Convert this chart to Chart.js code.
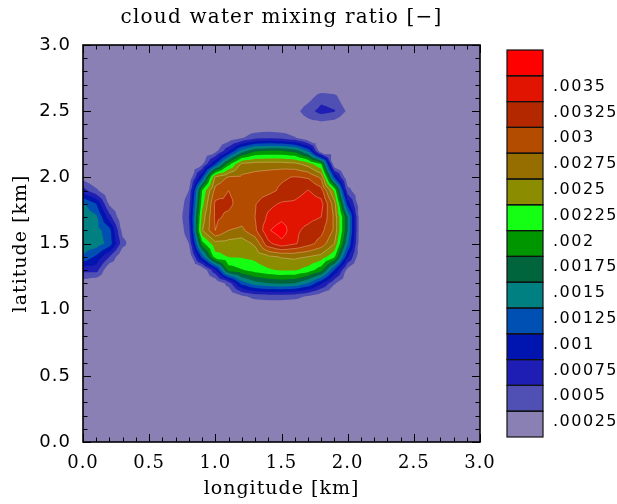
<!DOCTYPE html>
<html>
<head>
<meta charset="utf-8">
<script src="https://cdn.jsdelivr.net/npm/chart.js@4.4.1/dist/chart.umd.min.js"></script>
<style>
  html, body { margin: 0; padding: 0; background: #fff; }
  canvas { display: block; }
</style>
</head>
<body>
<canvas id="qcChart" width="617" height="504"></canvas>
<script>
// grid coordinates (km)
const lon = [0.0, 0.1, 0.2, 0.3, 0.4, 0.5, 0.6, 0.7, 0.8, 0.9, 1.0, 1.1, 1.2, 1.3, 1.4, 1.5,
             1.6, 1.7, 1.8, 1.9, 2.0, 2.1, 2.2, 2.3, 2.4, 2.5, 2.6, 2.7, 2.8, 2.9, 3.0];
const lat = [0.0, 0.1, 0.2, 0.3, 0.4, 0.5, 0.6, 0.7, 0.8, 0.9, 1.0, 1.1, 1.2, 1.3, 1.4, 1.5,
             1.6, 1.7, 1.8, 1.9, 2.0, 2.1, 2.2, 2.3, 2.4, 2.5, 2.6, 2.7, 2.8, 2.9, 3.0];

// cloud water mixing ratio in units of 1e-5, one row per latitude (0.0 km first)
const QC_UNIT = 1e-5;
const qc = [
  [0,0,0,0,0,0,0,0,0,0,0,0,0,0,0,0,0,0,0,0,0,0,0,0,0,0,0,0,0,0,0], // 0.0
  [0,0,0,0,0,0,0,0,0,0,0,0,0,0,0,0,0,0,0,0,0,0,0,0,0,0,0,0,0,0,0],
  [0,0,0,0,0,0,0,0,0,0,0,0,0,0,0,0,0,0,0,0,0,0,0,0,0,0,0,0,0,0,0],
  [0,0,0,0,0,0,0,0,0,0,0,0,0,0,0,0,0,0,0,0,0,0,0,0,0,0,0,0,0,0,0],
  [0,0,0,0,0,0,0,0,0,0,0,0,0,0,0,0,0,0,0,0,0,0,0,0,0,0,0,0,0,0,0],
  [0,0,0,0,0,0,0,0,0,0,0,0,0,0,0,0,0,0,0,0,0,0,0,0,0,0,0,0,0,0,0], // 0.5
  [0,0,0,0,0,0,0,0,0,0,0,0,0,0,0,0,0,0,0,0,0,0,0,0,0,0,0,0,0,0,0],
  [0,0,0,0,0,0,0,0,0,0,0,0,0,0,0,0,0,0,0,0,0,0,0,0,0,0,0,0,0,0,0],
  [0,0,0,0,0,0,0,0,0,0,0,0,0,0,0,0,0,0,0,0,0,0,0,0,0,0,0,0,0,0,0],
  [0,0,0,0,0,0,0,0,0,0,0,0,0,0,0,0,0,0,0,0,0,0,0,0,0,0,0,0,0,0,0],
  [0,0,0,0,0,0,0,0,0,0,0,0,0,0,0,0,0,0,0,0,0,0,0,0,0,0,0,0,0,0,0], // 1.0
  [0,0,0,0,0,0,0,0,0,0,0,0,20,32,35,35,32,22,5,0,0,0,0,0,0,0,0,0,0,0,0],
  [10,0,0,0,0,0,0,0,0,0,0,35,110,140,150,155,150,125,80,28,0,0,0,0,0,0,0,0,0,0,0],
  [60,60,0,0,0,0,0,0,0,0,70,185,198,212,222,228,228,215,185,100,15,0,0,0,0,0,0,0,0,0,0],
  [122,95,50,0,0,0,0,0,0,110,215,226,228,232,245,252,255,250,240,205,80,0,0,0,0,0,0,0,0,0,0],
  [140,140,115,35,0,0,0,0,25,190,242,240,235,255,318,342,328,310,290,250,130,0,0,0,0,0,0,0,0,0,0], // 1.5
  [145,135,110,15,0,0,0,0,40,248,300,275,270,295,347,365,330,319,308,270,150,0,0,0,0,0,0,0,0,0,0],
  [140,130,60,0,0,0,0,0,50,235,305,295,285,300,330,342,336,332,325,270,150,0,0,0,0,0,0,0,0,0,0],
  [130,100,20,0,0,0,0,0,40,215,305,305,290,298,318,328,330,340,334,260,90,0,0,0,0,0,0,0,0,0,0],
  [60,30,0,0,0,0,0,0,25,200,285,300,292,288,292,305,312,326,310,220,35,0,0,0,0,0,0,0,0,0,0],
  [15,0,0,0,0,0,0,0,0,100,255,278,280,285,290,296,302,298,270,100,0,0,0,0,0,0,0,0,0,0,0], // 2.0
  [0,0,0,0,0,0,0,0,0,20,100,190,256,262,262,262,258,240,200,0,0,0,0,0,0,0,0,0,0,0,0],
  [0,0,0,0,0,0,0,0,0,0,15,70,135,170,175,175,165,120,0,0,0,0,0,0,0,0,0,0,0,0,0],
  [0,0,0,0,0,0,0,0,0,0,0,5,22,40,45,40,27,0,0,0,0,0,0,0,0,0,0,0,0,0,0],
  [0,0,0,0,0,0,0,0,0,0,0,0,0,0,0,0,0,12,15,10,0,0,0,0,0,0,0,0,0,0,0],
  [0,0,0,0,0,0,0,0,0,0,0,0,0,0,0,0,15,40,60,52,20,0,0,0,0,0,0,0,0,0,0], // 2.5
  [0,0,0,0,0,0,0,0,0,0,0,0,0,0,0,0,0,15,40,35,0,0,0,0,0,0,0,0,0,0,0],
  [0,0,0,0,0,0,0,0,0,0,0,0,0,0,0,0,0,0,0,0,0,0,0,0,0,0,0,0,0,0,0],
  [0,0,0,0,0,0,0,0,0,0,0,0,0,0,0,0,0,0,0,0,0,0,0,0,0,0,0,0,0,0,0],
  [0,0,0,0,0,0,0,0,0,0,0,0,0,0,0,0,0,0,0,0,0,0,0,0,0,0,0,0,0,0,0],
  [0,0,0,0,0,0,0,0,0,0,0,0,0,0,0,0,0,0,0,0,0,0,0,0,0,0,0,0,0,0,0]  // 3.0
];

// contour levels and their labels on the colour bar
const levels = [0.00025, 0.0005, 0.00075, 0.001, 0.00125, 0.0015, 0.00175, 0.002,
                0.00225, 0.0025, 0.00275, 0.003, 0.00325, 0.0035];
const levelLabels = ['.00025', '.0005', '.00075', '.001', '.00125', '.0015', '.00175', '.002',
                     '.00225', '.0025', '.00275', '.003', '.00325', '.0035'];
// one colour below the first level, then one per band
const fillColors = ['#8b80b4', '#5050b4', '#1e1eb4', '#0014b0', '#0050b4', '#008080', '#00643c',
                    '#009600', '#14ff14', '#8c8c00', '#966e00', '#b44c00', '#b42800', '#e01400', '#ff0000'];

const axisTicks = [0.0, 0.5, 1.0, 1.5, 2.0, 2.5, 3.0];
const axisTickLabels = ['0.0', '0.5', '1.0', '1.5', '2.0', '2.5', '3.0'];

const serif = "'DejaVu Serif', 'Liberation Serif', serif";
const sans = "'DejaVu Sans', 'Liberation Sans', sans-serif";

// part of a triangle where the value is >= lev (Sutherland-Hodgman on one edge)
function clipAbove(tri, lev) {
  const out = [];
  for (let k = 0; k < tri.length; k++) {
    const a = tri[k], b = tri[(k + 1) % tri.length];
    const ina = a[2] >= lev, inb = b[2] >= lev;
    if (ina) out.push(a);
    if (ina !== inb) {
      const t = (lev - a[2]) / (b[2] - a[2]);
      out.push([a[0] + t * (b[0] - a[0]), a[1] + t * (b[1] - a[1]), lev]);
    }
  }
  return out;
}

// split every cell into four triangles around its centre
function forEachTriangle(px, py, fn) {
  for (let j = 0; j < lat.length - 1; j++) {
    for (let i = 0; i < lon.length - 1; i++) {
      const a = [px[i], py[j], qc[j][i]];
      const b = [px[i + 1], py[j], qc[j][i + 1]];
      const c = [px[i + 1], py[j + 1], qc[j + 1][i + 1]];
      const d = [px[i], py[j + 1], qc[j + 1][i]];
      if (a[2] === 0 && b[2] === 0 && c[2] === 0 && d[2] === 0) continue;
      const m = [(a[0] + b[0]) / 2, (a[1] + d[1]) / 2, (a[2] + b[2] + c[2] + d[2]) / 4];
      fn([a, b, m]); fn([b, c, m]); fn([c, d, m]); fn([d, a, m]);
    }
  }
}

const contourFill = {
  id: 'contourFill',
  beforeDraw(chart) {
    // the plot's lettering is set a little wide
    chart.ctx.letterSpacing = '1px';
  },
  beforeDatasetsDraw(chart) {
    const { ctx, chartArea: area, scales } = chart;
    const px = lon.map(v => scales.x.getPixelForValue(v));
    const py = lat.map(v => scales.y.getPixelForValue(v));
    ctx.save();
    ctx.beginPath();
    ctx.rect(area.left, area.top, area.right - area.left, area.bottom - area.top);
    ctx.clip();
    ctx.fillStyle = fillColors[0];
    ctx.fillRect(area.left, area.top, area.right - area.left, area.bottom - area.top);

    levels.forEach((level, k) => {
      const lev = level / QC_UNIT;
      ctx.beginPath();
      forEachTriangle(px, py, tri => {
        const poly = clipAbove(tri, lev);
        if (poly.length < 3) return;
        ctx.moveTo(poly[0][0], poly[0][1]);
        for (let n = 1; n < poly.length; n++) ctx.lineTo(poly[n][0], poly[n][1]);
        ctx.closePath();
      });
      ctx.fillStyle = fillColors[k + 1];
      ctx.fill();
    });

    // faint contour lines through the core of the cloud
    ctx.strokeStyle = 'rgba(255, 215, 190, 0.45)';
    ctx.lineWidth = 0.8;
    levels.forEach(level => {
      if (level < 0.0025) return;
      const lev = level / QC_UNIT;
      ctx.beginPath();
      forEachTriangle(px, py, tri => {
        const pts = [];
        for (let k = 0; k < 3; k++) {
          const a = tri[k], b = tri[(k + 1) % 3];
          if ((a[2] >= lev) !== (b[2] >= lev)) {
            const t = (lev - a[2]) / (b[2] - a[2]);
            pts.push([a[0] + t * (b[0] - a[0]), a[1] + t * (b[1] - a[1])]);
          }
        }
        if (pts.length === 2) {
          ctx.moveTo(pts[0][0], pts[0][1]);
          ctx.lineTo(pts[1][0], pts[1][1]);
        }
      });
      ctx.stroke();
    });
    ctx.restore();
  },

  afterDraw(chart) {
    const { ctx, chartArea: area, scales } = chart;
    ctx.save();

    // inward tick marks on all four sides
    ctx.strokeStyle = '#000';
    ctx.lineWidth = 1;
    ctx.beginPath();
    for (let k = 0; k <= 30; k++) {
      const v = k / 10;
      const len = k % 5 === 0 ? 8 : 4.5;
      const xp = Math.round(scales.x.getPixelForValue(v)) + 0.5;
      const yp = Math.round(scales.y.getPixelForValue(v)) + 0.5;
      ctx.moveTo(xp, area.bottom); ctx.lineTo(xp, area.bottom - len);
      ctx.moveTo(xp, area.top); ctx.lineTo(xp, area.top + len);
      ctx.moveTo(area.left, yp); ctx.lineTo(area.left + len, yp);
      ctx.moveTo(area.right, yp); ctx.lineTo(area.right - len, yp);
    }
    ctx.stroke();
    ctx.lineWidth = 1.6;
    ctx.strokeRect(area.left, area.top, area.right - area.left, area.bottom - area.top);

    // title
    ctx.fillStyle = '#000';
    ctx.font = '20px ' + serif;
    ctx.letterSpacing = '1.2px';
    ctx.textAlign = 'center';
    ctx.textBaseline = 'middle';
    ctx.fillText('cloud water mixing ratio [\u2212]', (area.left + area.right) / 2, 18);

    // colour bar
    const cbLeft = 507, cbRight = 543, cbTop = 50, cbBottom = 437;
    const nBands = fillColors.length;
    const h = (cbBottom - cbTop) / nBands;
    for (let k = 0; k < nBands; k++) {
      const y0 = cbBottom - (k + 1) * h;
      ctx.fillStyle = fillColors[k];
      ctx.fillRect(cbLeft, y0, cbRight - cbLeft, h);
    }
    ctx.strokeStyle = '#111';
    ctx.lineWidth = 1.2;
    for (let k = 0; k < nBands; k++) {
      ctx.strokeRect(cbLeft, cbBottom - (k + 1) * h, cbRight - cbLeft, h);
    }
    ctx.fillStyle = '#000';
    ctx.font = '16px ' + sans;
    ctx.letterSpacing = '1.5px';
    ctx.textAlign = 'left';
    ctx.textBaseline = 'alphabetic';
    levelLabels.forEach((lab, k) => {
      const yb = cbBottom - (k + 1) * h;
      ctx.fillText(lab, 553, yb + 15);
    });
    ctx.restore();
  }
};

new Chart(document.getElementById('qcChart'), {
  type: 'scatter',
  data: { datasets: [{ data: [], showLine: false }] },
  options: {
    responsive: false,
    animation: false,
    devicePixelRatio: 1,
    layout: { padding: { top: 45, right: 137, left: 0, bottom: 0 } },
    plugins: { legend: { display: false }, tooltip: { enabled: false } },
    scales: {
      x: {
        type: 'linear', min: 0, max: 3,
        afterBuildTicks: s => { s.ticks = axisTicks.map(v => ({ value: v })); },
        afterFit: s => { s.height = 62; },
        ticks: {
          autoSkip: false, maxRotation: 0, padding: 11, color: '#000',
          font: { family: serif, size: 18 },
          callback: (v, i) => axisTickLabels[i]
        },
        grid: { display: false, drawTicks: false },
        border: { display: false },
        title: {
          display: true, text: 'longitude [km]', color: '#000',
          font: { family: serif, size: 19 }, padding: { top: 0, bottom: 4 }
        }
      },
      y: {
        type: 'linear', min: 0, max: 3,
        afterBuildTicks: s => { s.ticks = axisTicks.map(v => ({ value: v })); },
        afterFit: s => { s.width = 83; },
        ticks: {
          autoSkip: false, padding: 12, color: '#000',
          font: { family: sans, size: 18 },
          callback: (v, i) => axisTickLabels[i]
        },
        grid: { display: false, drawTicks: false },
        border: { display: false },
        title: {
          display: true, text: 'latitude [km]', color: '#000',
          font: { family: serif, size: 19 }, padding: { top: 10, bottom: 0 }
        }
      }
    }
  },
  plugins: [contourFill]
});
</script>
</body>
</html>
